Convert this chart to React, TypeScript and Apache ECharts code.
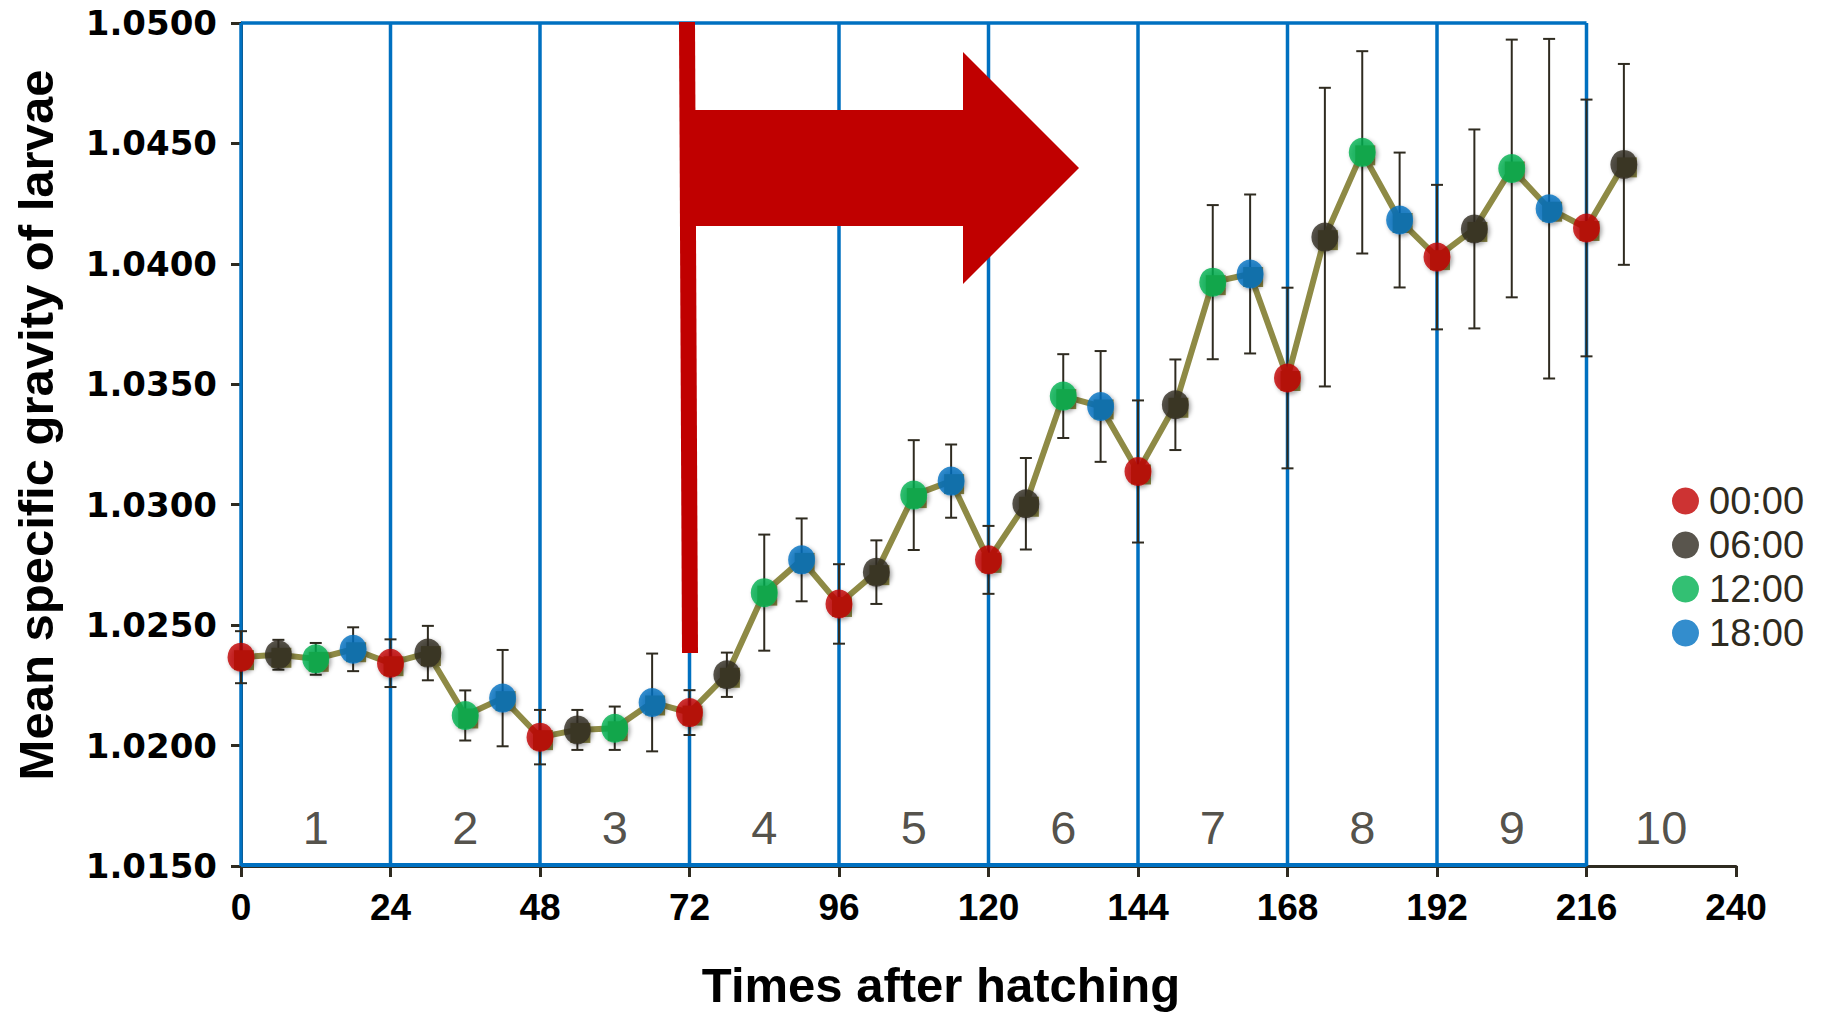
import React, { useEffect, useRef } from "react";
import * as echarts from "echarts";

// ---- data ----
const hours = [0, 6, 12, 18, 24, 30, 36, 42, 48, 54, 60, 66, 72, 78, 84, 90, 96, 102, 108, 114, 120, 126, 132, 138, 144, 150, 156, 162, 168, 174, 180, 186, 192, 198, 204, 210, 216, 222];
const means = [1.02367, 1.02377, 1.0236, 1.024, 1.02342, 1.02384, 1.02125, 1.02197, 1.02035, 1.02065, 1.02072, 1.02179, 1.02137, 1.02294, 1.02635, 1.02771, 1.02588, 1.0272, 1.0304, 1.03098, 1.02771, 1.03004, 1.03451, 1.03408, 1.03138, 1.03415, 1.03924, 1.03958, 1.03526, 1.04111, 1.04463, 1.04182, 1.04028, 1.04145, 1.04396, 1.04229, 1.04149, 1.04413];
const errors = [0.00108, 0.00062, 0.00066, 0.00091, 0.00099, 0.00113, 0.00104, 0.002, 0.00113, 0.00083, 0.0009, 0.00203, 0.00093, 0.00092, 0.00241, 0.00172, 0.00165, 0.00132, 0.00228, 0.00152, 0.00141, 0.0019, 0.00174, 0.0023, 0.00295, 0.00188, 0.0032, 0.0033, 0.00375, 0.0062, 0.0042, 0.0028, 0.003, 0.00413, 0.00535, 0.00705, 0.00533, 0.00417];
const timeNames = ["00:00", "06:00", "12:00", "18:00"];
const timeColors = ["#C00000", "#2F2B20", "#00B050", "#0070C0"];
const dayBoundaries = [0, 24, 48, 72, 96, 120, 144, 168, 192, 216];
const dayLabels = ["1", "2", "3", "4", "5", "6", "7", "8", "9", "10"];
const dayLabelX = [12, 36, 60, 84, 108, 132, 156, 180, 204, 228];
const dayLabelY = 1.01658;
const xTicks = { min: 0, max: 240, interval: 24 };
const yTicks = { min: 1.015, max: 1.05, interval: 0.005 };

const BLUE = "#0070C0";
const DARK = "#2F2B20";
const OLIVE = "#8E8A45";
const RED = "#C00000";

export default function App() {
  const ref = useRef<HTMLDivElement>(null);
  useEffect(() => {
    if (!ref.current) return;
    const chart = echarts.init(ref.current, undefined, { renderer: "svg" });

    const points = hours.map((h, i) => [h, means[i], errors[i]]);
    const groupSeries = timeNames.map((name, k) => ({
      name,
      type: "scatter",
      z: 5,
      symbol: "circle",
      symbolSize: [27, 29],
      itemStyle: {
        color: timeColors[k],
        shadowBlur: 4,
        shadowColor: "rgba(0,0,0,0.45)",
        shadowOffsetX: 2,
        shadowOffsetY: 2,
      },
      data: points.filter((p) => ((p[0] as number) % 24) / 6 === k).map((p) => [p[0], p[1]]),
    }));

    const option: any = {
      animation: false,
      backgroundColor: "#ffffff",
      grid: { left: 241, right: 92, top: 23, bottom: 146, containLabel: false },
      xAxis: {
        type: "value",
        min: xTicks.min,
        max: xTicks.max,
        interval: xTicks.interval,
        axisLine: { show: true, lineStyle: { color: DARK, width: 3 } },
        axisTick: { show: true, length: 11, lineStyle: { color: DARK, width: 3 } },
        splitLine: { show: false },
        axisLabel: {
          margin: 23,
          color: "#000",
          fontSize: 37,
          fontWeight: "bold",
          fontFamily: "'Liberation Sans Narrow', 'Liberation Sans', Arial, sans-serif",
        },
      },
      yAxis: {
        type: "value",
        min: yTicks.min,
        max: yTicks.max,
        interval: yTicks.interval,
        axisLine: { show: true, lineStyle: { color: DARK, width: 3 } },
        axisTick: { show: true, length: 10, lineStyle: { color: DARK, width: 3 } },
        splitLine: { show: false },
        axisLabel: {
          margin: 24,
          color: "#000",
          fontSize: 34,
          fontWeight: "bold",
          fontFamily: "'DejaVu Sans', sans-serif",
          formatter: (v: number) => v.toFixed(4),
        },
      },
      legend: {
        data: timeNames,
        orient: "vertical",
        left: 1672,
        top: 482,
        itemWidth: 27,
        itemHeight: 28,
        itemGap: 6,
        icon: "circle",
        padding: 0,
        textStyle: {
          fontSize: 38,
          color: DARK,
          fontFamily: "'Liberation Sans', Arial, sans-serif",
          padding: [0, 0, 0, 5],
        },
      },
      series: [
        {
          type: "custom",
          name: "frame",
          z: 1,
          silent: true,
          data: dayBoundaries.map((d) => [d]),
          renderItem: (params: any, api: any) => {
            const x = api.value(0);
            const p0 = api.coord([x, yTicks.min]);
            const p1 = api.coord([x, yTicks.max]);
            const children: any[] = [
              { type: "line", shape: { x1: p0[0], y1: p0[1], x2: p1[0], y2: p1[1] }, style: { stroke: BLUE, lineWidth: 3.5 } },
            ];
            if (params.dataIndex === 0) {
              const last = dayBoundaries[dayBoundaries.length - 1];
              const t0 = api.coord([x, yTicks.max]);
              const t1 = api.coord([last, yTicks.max]);
              const b0 = api.coord([x, yTicks.min]);
              const b1 = api.coord([last, yTicks.min]);
              children.push({ type: "line", shape: { x1: t0[0], y1: t0[1], x2: t1[0], y2: t1[1] }, style: { stroke: BLUE, lineWidth: 3.5 } });
              children.push({ type: "line", shape: { x1: b0[0], y1: b0[1] - 1, x2: b1[0], y2: b1[1] - 1 }, style: { stroke: BLUE, lineWidth: 4 } });
            }
            return { type: "group", children };
          },
        },
        {
          type: "custom",
          name: "errors",
          z: 2,
          silent: true,
          data: points,
          renderItem: (params: any, api: any) => {
            const x = api.value(0);
            const m = api.value(1);
            const e = api.value(2);
            const hi = api.coord([x, m + e]);
            const lo = api.coord([x, m - e]);
            const cap = 6;
            const st = { stroke: DARK, lineWidth: 2 };
            return {
              type: "group",
              children: [
                { type: "line", shape: { x1: hi[0], y1: hi[1], x2: lo[0], y2: lo[1] }, style: st },
                { type: "line", shape: { x1: hi[0] - cap, y1: hi[1], x2: hi[0] + cap, y2: hi[1] }, style: st },
                { type: "line", shape: { x1: lo[0] - cap, y1: lo[1], x2: lo[0] + cap, y2: lo[1] }, style: st },
              ],
            };
          },
        },
        {
          type: "line",
          name: "mean",
          z: 3,
          data: points.map((p) => [p[0], p[1]]),
          lineStyle: { color: OLIVE, width: 6 },
          itemStyle: { color: OLIVE },
          symbol: "rect",
          symbolSize: 20,
          symbolOffset: [3, 3],
          showSymbol: true,
          silent: true,
        },
        ...groupSeries,
        {
          type: "scatter",
          name: "days",
          z: 6,
          silent: true,
          symbolSize: 0,
          data: dayLabelX.map((x, i) => ({ value: [x, dayLabelY], name: dayLabels[i] })),
          label: {
            show: true,
            position: "inside",
            formatter: (p: any) => p.name,
            fontSize: 47,
            color: "#26231a",
            fontFamily: "'Liberation Sans', Arial, sans-serif",
          },
        },
      ],
      graphic: [
        {
          type: "polygon",
          z: 100,
          shape: { points: [[679, 22], [695, 22], [698, 653], [682, 653]] },
          style: { fill: RED },
        },
        {
          type: "polygon",
          z: 100,
          shape: { points: [[690, 110], [963, 110], [963, 52], [1079, 168], [963, 284], [963, 226], [690, 226]] },
          style: { fill: RED },
        },
        {
          type: "text",
          x: 36,
          y: 425,
          rotation: Math.PI / 2,
          style: {
            text: "Mean specific gravity of larvae",
            fill: "#000",
            font: "bold 49px 'Liberation Sans', Arial, sans-serif",
            align: "center",
            verticalAlign: "middle",
          },
        },
        {
          type: "text",
          x: 941,
          y: 985,
          style: {
            text: "Times after hatching",
            fill: "#000",
            font: "bold 49px 'Liberation Sans', Arial, sans-serif",
            align: "center",
            verticalAlign: "middle",
          },
        },
      ],
    };
    chart.setOption(option);
    return () => chart.dispose();
  }, []);

  return (
    <div
      ref={ref}
      style={{ position: "fixed", left: 0, top: 0, width: 1828, height: 1012, background: "#fff" }}
    />
  );
}
